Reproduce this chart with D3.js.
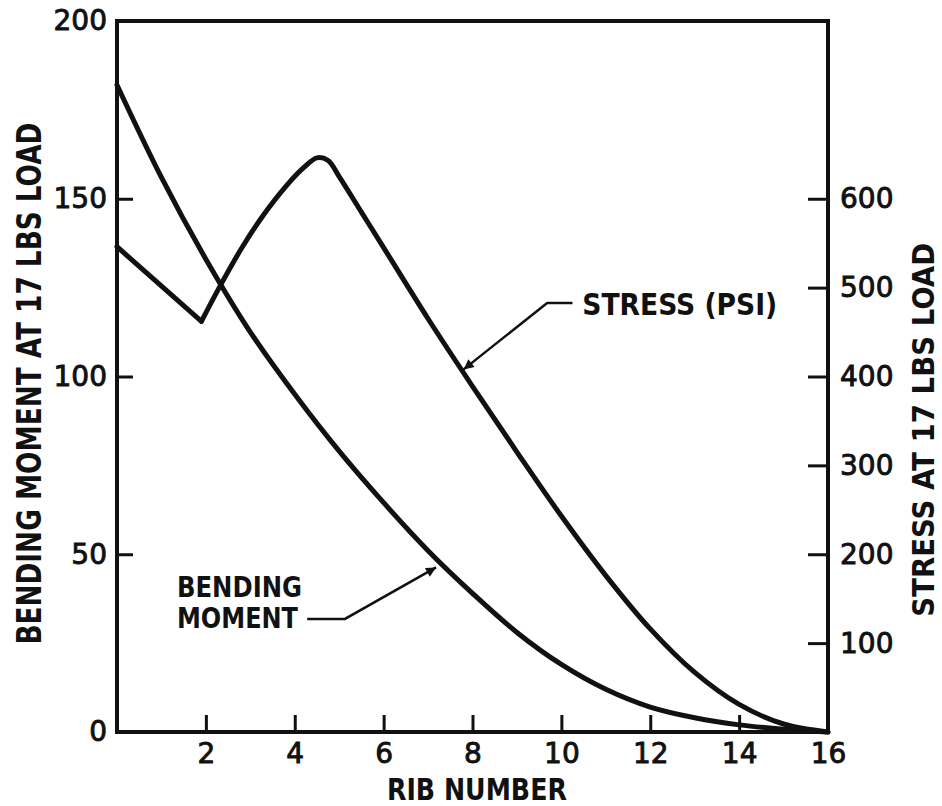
<!DOCTYPE html>
<html>
<head>
<meta charset="utf-8">
<script src="https://cdn.jsdelivr.net/npm/d3@7"></script>
<style>
  body { margin: 0; background: #fff; }
  svg { display: block; }
  .tick text { font-family: "DejaVu Sans", sans-serif; font-size: 28px; fill: #111; stroke: #111; stroke-width: 0.9px; }
  .tick line { stroke: #111; stroke-width: 3; }
  .cond { font-family: "DejaVu Sans Condensed", "DejaVu Sans", sans-serif; font-stretch: condensed; font-weight: bold; fill: #111; }
</style>
</head>
<body>
<svg></svg>
<script>
// rib number vs bending moment (left axis)
const ribs = [0, 1, 2, 3, 4, 5, 6, 7, 8, 9, 10, 11, 12, 13, 14, 15, 16]
const bendingMoment = [182, 156, 133, 112.5, 95, 79, 64.5, 51, 39, 28, 19, 12, 7, 4, 2, 0.8, 0]

// stress (right axis, psi) - kink at rib 1.9, rounded peak near 4.5
const stressRibs = [0, 1.9, 2.3, 2.8, 3.3, 3.8, 4.2, 4.5, 4.75, 5, 5.5, 6, 7, 8, 9, 10, 11, 12, 13, 14, 15, 16]
const stress = [546, 462, 500, 544, 582, 614, 635, 646, 643, 625, 585, 545, 465, 389, 315, 243, 176, 116, 67, 31, 9, 0]

const xTicks = [2, 4, 6, 8, 10, 12, 14, 16]
const leftTicks = [0, 50, 100, 150, 200]
const rightTicks = [100, 200, 300, 400, 500, 600]

const width = 942
const height = 806
const margin = {left: 117, top: 21, right: 114, bottom: 74}

let svg = d3.select("svg")
    .attr("width", width)
    .attr("height", height)

let x = d3.scaleLinear().domain([0, 16]).range([margin.left, width - margin.right])
let yLeft = d3.scaleLinear().domain([0, 200]).range([height - margin.bottom, margin.top])
let yRight = d3.scaleLinear().domain([0, 800]).range([height - margin.bottom, margin.top])

// axes, ticks pointing inward
svg.append("g")
    .attr("transform", `translate(0,${yLeft(0)})`)
    .call(d3.axisBottom(x).tickValues(xTicks).tickSizeInner(-17).tickSizeOuter(0).tickPadding(11))
    .call(g => g.select(".domain").remove())

svg.append("g")
    .attr("transform", `translate(${x(0)},0)`)
    .call(d3.axisLeft(yLeft).tickValues(leftTicks).tickSizeInner(-16).tickSizeOuter(0).tickPadding(10))
    .call(g => g.select(".domain").remove())

svg.append("g")
    .attr("transform", `translate(${x(16)},0)`)
    .call(d3.axisRight(yRight).tickValues(rightTicks).tickSizeInner(-20).tickSizeOuter(0).tickPadding(12))
    .call(g => g.select(".domain").remove())

// frame
svg.append("rect")
    .attr("x", x(0))
    .attr("y", yLeft(200))
    .attr("width", x(16) - x(0))
    .attr("height", yLeft(0) - yLeft(200))
    .attr("fill", "none")
    .attr("stroke", "#111")
    .attr("stroke-width", 4)

// curves
let bendLine = d3.line()
    .x((d, i) => x(ribs[i]))
    .y(d => yLeft(d))
    .curve(d3.curveCatmullRom.alpha(0.5))

svg.append("path")
    .attr("d", bendLine(bendingMoment))
    .attr("fill", "none")
    .attr("stroke", "#111")
    .attr("stroke-width", 5)
    .attr("stroke-linecap", "round")

let stressPts = stressRibs.map((r, i) => [r, stress[i]])
let stressLine = d3.line()
    .x(d => x(d[0]))
    .y(d => yRight(d[1]))

// straight run to the kink, then smooth
svg.append("path")
    .attr("d", stressLine(stressPts.slice(0, 2)))
    .attr("fill", "none")
    .attr("stroke", "#111")
    .attr("stroke-width", 5)
    .attr("stroke-linecap", "round")

svg.append("path")
    .attr("d", stressLine.curve(d3.curveCatmullRom.alpha(0.5))(stressPts.slice(1)))
    .attr("fill", "none")
    .attr("stroke", "#111")
    .attr("stroke-width", 5)
    .attr("stroke-linecap", "round")

// arrow marker
svg.append("defs").append("marker")
    .attr("id", "arrow")
    .attr("viewBox", "0 0 10 10")
    .attr("refX", 10)
    .attr("refY", 5)
    .attr("markerWidth", 5)
    .attr("markerHeight", 4)
    .attr("markerUnits", "strokeWidth")
    .attr("orient", "auto")
  .append("path")
    .attr("d", "M0,0L10,5L0,10z")
    .attr("fill", "#111")

// annotations (rib, left-axis units)
function leader(pts){
    svg.append("path")
        .attr("d", d3.line().x(d => x(d[0])).y(d => yLeft(d[1]))(pts))
        .attr("fill", "none")
        .attr("stroke", "#111")
        .attr("stroke-width", 2.5)
        .attr("marker-end", "url(#arrow)")
}

leader([[10.25, 120.7], [9.68, 120.7], [7.8, 102]])
leader([[4.28, 31.8], [5.13, 31.8], [7.18, 46.3]])

svg.append("text")
    .attr("class", "cond")
    .attr("x", x(10.47))
    .attr("y", yLeft(117.3))
    .attr("font-size", 30)
    .attr("textLength", 195)
    .attr("lengthAdjust", "spacingAndGlyphs")
    .text("STRESS (PSI)")

svg.append("text")
    .attr("class", "cond")
    .attr("x", x(1.35))
    .attr("y", yLeft(38))
    .attr("font-size", 28)
    .attr("textLength", 125)
    .attr("lengthAdjust", "spacingAndGlyphs")
    .text("BENDING")

svg.append("text")
    .attr("class", "cond")
    .attr("x", x(1.35))
    .attr("y", yLeft(29.3))
    .attr("font-size", 28)
    .attr("textLength", 121)
    .attr("lengthAdjust", "spacingAndGlyphs")
    .text("MOMENT")

// axis titles
svg.append("text")
    .attr("class", "cond")
    .attr("transform", `translate(41,${yLeft(98)}) rotate(-90)`)
    .attr("text-anchor", "middle")
    .attr("font-size", 34)
    .attr("textLength", 522)
    .attr("lengthAdjust", "spacingAndGlyphs")
    .text("BENDING MOMENT AT 17 LBS LOAD")

svg.append("text")
    .attr("class", "cond")
    .attr("transform", `translate(934,${yRight(340)}) rotate(-90)`)
    .attr("text-anchor", "middle")
    .attr("font-size", 31)
    .attr("textLength", 374)
    .attr("lengthAdjust", "spacingAndGlyphs")
    .text("STRESS AT 17 LBS LOAD")

svg.append("text")
    .attr("class", "cond")
    .attr("x", x(8.1))
    .attr("y", 800)
    .attr("text-anchor", "middle")
    .attr("font-size", 31)
    .attr("textLength", 180)
    .attr("lengthAdjust", "spacingAndGlyphs")
    .text("RIB NUMBER")
</script>
</body>
</html>
